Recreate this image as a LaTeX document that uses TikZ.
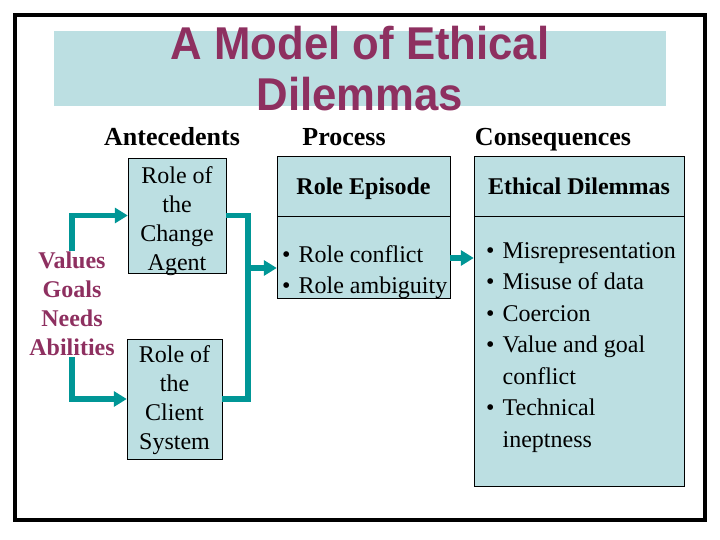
\documentclass[tikz,border=0pt]{standalone}
\usepackage{fontspec}
\setmainfont{Liberation Serif}
\newfontfamily\titlefont[FakeStretch=0.95]{Liberation Sans}
\usetikzlibrary{arrows.meta,positioning,calc}
\definecolor{bandblue}{HTML}{BCDFE2}
\definecolor{maroon}{HTML}{8E3060}
\definecolor{flowteal}{HTML}{009696}
\newcommand{\itembul}{\textbullet\hspace{8pt}}
\tikzset{
  rolebox/.style={draw, thin, fill=bandblue, inner sep=0pt},
  roletext/.style={align=center, inner sep=0pt, font=\fontsize{24}{29}\selectfont},
  colbox/.style={draw, thin, fill=bandblue, inner sep=0pt},
  colhead/.style={font=\fontsize{26}{30}\selectfont\bfseries, inner sep=0pt},
  boxhead/.style={font=\fontsize{24}{28}\selectfont\bfseries, inner sep=0pt},
  itemlist/.style={align=left, inner sep=0pt, font=\fontsize{24}{31.5}\selectfont},
  flowline/.style={line width=5.5pt, draw=flowteal},
  flowarr/.style={flowline, -{Triangle[length=13pt,width=15pt]}},
  smallarr/.style={line width=6pt, draw=flowteal, -{Triangle[length=13pt,width=15pt]}}
}
\begin{document}
\begin{tikzpicture}[x=1pt,y=-1pt]
  \useasboundingbox (0,0) rectangle (720,540);
  \draw[line width=4pt] (15,15) rectangle (705,520);
  % title
  \node[fill=bandblue, minimum width=612pt, minimum height=75pt, inner sep=0pt] (band) at (360,68.5) {};
  \node[font=\titlefont\fontsize{46}{51}\selectfont\bfseries, text=maroon, align=center, inner sep=0pt] (title) at (360,69) {A Model of Ethical\\Dilemmas};
  % column headings
  \node[colhead, anchor=base] (antehead) at (172,146) {Antecedents};
  \node[colhead, anchor=base] (prochead) at (344,146) {Process};
  \node[colhead, anchor=base] (conshead) at (553,146) {Consequences};
  % antecedents
  \node[align=center, text=maroon, inner sep=1pt, font=\fontsize{24}{29}\selectfont\bfseries] (drivers) at (72,304) {Values\\Goals\\Needs\\Abilities};
  \node[rolebox, minimum width=98pt, minimum height=115pt] (agent) at (177,215.5) {};
  \node[roletext, yshift=-5.5pt] (agenttext) at (agent.center) {Role of\\the\\Change\\Agent};
  \node[rolebox, minimum width=95pt, minimum height=120pt] (client) at (174.5,399) {};
  \node[roletext, yshift=-1.5pt] (clienttext) at (client.center) {Role of\\the\\Client\\System};
  % process
  \node[colbox, minimum width=173pt, minimum height=142pt] (process) at (363.5,227) {};
  \draw (process.west |- 0,216) -- (process.east |- 0,216);
  \node[boxhead, anchor=base] (episode) at (363.5,195) {Role Episode};
  \node[itemlist, anchor=west] (roleitems) at (282,272) {\itembul Role conflict\\\itembul Role ambiguity};
  % consequences
  \node[colbox, minimum width=210pt, minimum height=330pt] (conseq) at (579,321) {};
  \draw (conseq.west |- 0,216) -- (conseq.east |- 0,216);
  \node[boxhead, anchor=base] (dilemmas) at (579,195) {Ethical Dilemmas};
  \node[itemlist, anchor=west] (dilitems) at (486,347.5) {\itembul Misrepresentation\\\itembul Misuse of data\\\itembul Coercion\\\itembul Value and goal\\\hphantom{\itembul}conflict\\\itembul Technical\\\hphantom{\itembul}ineptness};
  % connectors
  \draw[flowarr] (drivers.north) |- (agent.west);
  \draw[flowarr] (drivers.south) |- (client.west);
  \coordinate (merge) at (248,268);
  \draw[flowline] (agent.east) -| (merge) |- (client.east);
  \draw[flowarr] (merge) -- (merge -| process.west);
  \coordinate (link) at (460,258);
  \draw[smallarr] (link -| process.east) -- (link -| conseq.west);
\end{tikzpicture}
\end{document}
